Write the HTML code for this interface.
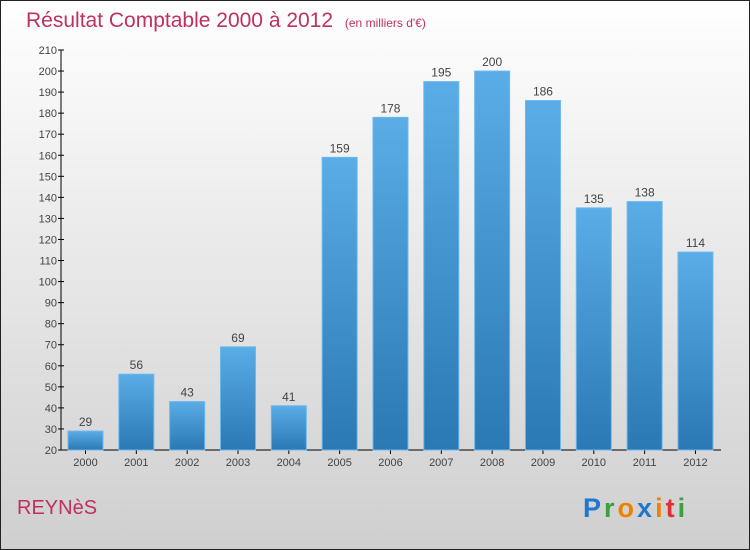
<!DOCTYPE html>
<html><head><meta charset="utf-8"><style>
body{margin:0;width:750px;height:550px;overflow:hidden}
svg{display:block;font-family:"Liberation Sans",sans-serif}
</style></head><body>
<svg width="750" height="550" viewBox="0 0 750 550">
<defs>
<linearGradient id="bg" x1="0" y1="0" x2="0" y2="1"><stop offset="0" stop-color="#ffffff"/><stop offset="1" stop-color="#cfcfcf"/></linearGradient>
<linearGradient id="bar" x1="0" y1="0" x2="0" y2="1"><stop offset="0" stop-color="#5aade6"/><stop offset="1" stop-color="#2a78b4"/></linearGradient>
</defs>
<rect x="0.5" y="0.5" width="749" height="549" fill="url(#bg)" stroke="#222"/>
<text x="26" y="27" font-size="21" fill="#c0305f">Résultat Comptable 2000 à 2012 <tspan font-size="12" dx="6">(en milliers d'€)</tspan></text>
<g id="axes"></g>
<g id="bars"></g>
<text x="17" y="514" font-size="20" fill="#c0305f">REYNèS</text>
<text x="583" y="517" font-size="27" font-weight="bold" letter-spacing="3"><tspan fill="#1f77d0">P</tspan><tspan fill="#3aa040">r</tspan><tspan fill="#f08000">o</tspan><tspan fill="#1f77d0">x</tspan><tspan fill="#f08000">i</tspan><tspan fill="#e03030">t</tspan><tspan fill="#3aa040">i</tspan></text>
</svg>
<script>
const years=["2000","2001","2002","2003","2004","2005","2006","2007","2008","2009","2010","2011","2012"];
const values=[29,56,43,69,41,159,178,195,200,186,135,138,114];
const ticks=[20,30,40,50,60,70,80,90,100,110,120,130,140,150,160,170,180,190,200,210];
const NS="http://www.w3.org/2000/svg";
const y0=450,y1=50,vmin=20,vmax=210,xl=61,step=50.83,bw=35;
const yS=v=>y0-(v-vmin)/(vmax-vmin)*(y0-y1);
const xC=i=>85.5+i*step;
function mk(t,a,p){const e=document.createElementNS(NS,t);for(const k in a)e.setAttribute(k,a[k]);p.appendChild(e);return e;}
const ax=document.getElementById('axes'),bg=document.getElementById('bars');
let l=mk('line',{x1:xl,y1:y1,x2:xl,y2:y0,stroke:'#000'},ax);


l=mk('line',{x1:xl,y1:y0,x2:721,y2:y0,stroke:'#000'},ax);


ticks.forEach(t=>{const y=yS(t);
 mk('line',{x1:xl-3,x2:xl+3,y1:y,y2:y,stroke:'#000'},ax);
 const tx=mk('text',{x:xl-4,y:y+4,'text-anchor':'end','font-size':11,fill:'#444'},ax);tx.textContent=t;
 
 });
years.forEach((yr,i)=>{const c=xC(i),v=values[i],top=yS(v);
 const r=mk('rect',{x:c-bw/2,y:top,width:bw,height:y0-top,fill:'url(#bar)',stroke:'#6cb8ee','stroke-width':1},bg);
 
 
 const vt=mk('text',{x:c,y:top-5,'text-anchor':'middle','font-size':12,fill:'#444'},bg);vt.textContent=v;
 
 
 mk('line',{x1:c,x2:c,y1:y0,y2:y0+4,stroke:'#000'},ax);
 const xt=mk('text',{x:c,y:y0+16,'text-anchor':'middle','font-size':11,fill:'#444'},ax);xt.textContent=yr;
 
 });
</script>
</body></html>
